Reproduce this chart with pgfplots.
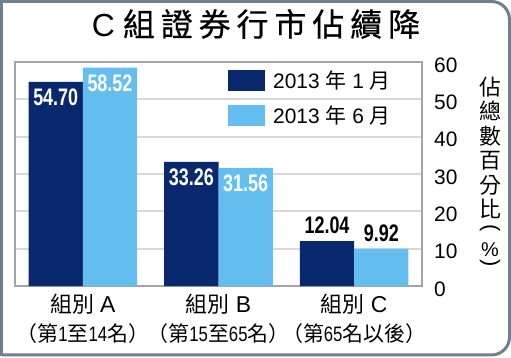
\documentclass[border=0pt]{standalone}
\usepackage{fontspec}
\setmainfont{Liberation Sans}
\newfontfamily\cjk{Noto Sans CJK TC}
\newfontfamily\cjkt[FakeBold=0.5]{Noto Sans CJK TC}
\newfontfamily\cond[FakeStretch=0.75]{Liberation Sans}
\newfontfamily\condl[FakeStretch=0.8]{Liberation Sans}
\usepackage{pgfplots}
\pgfplotsset{compat=1.18}
\definecolor{dkblue}{RGB}{10,40,110}
\definecolor{ltblue}{RGB}{100,190,240}
\definecolor{framecol}{RGB}{110,128,144}
\definecolor{axgray}{RGB}{165,165,165}
\definecolor{gridgray}{RGB}{215,215,220}
\pgfplotsset{mylegend/.style={legend image code/.code={\fill[##1, draw=none] (0bp,-10.5bp) rectangle (37bp,10.5bp);}},
  inlab/.style={draw=none, mark=none, forget plot,
    nodes near coords={\pgfmathprintnumber[fixed, fixed zerofill, precision=2]{\pgfplotspointmeta}},
    nodes near coords style={font=\cond\bfseries\fontsize{24}{24}\selectfont, text=white, inner sep=0pt, anchor=south, yshift=-24bp}},
  outlab/.style={draw=none, mark=none, forget plot,
    nodes near coords={\pgfmathprintnumber[fixed, fixed zerofill, precision=2]{\pgfplotspointmeta}},
    nodes near coords style={font=\cond\bfseries\fontsize{24}{24}\selectfont, text=black, inner sep=0pt, anchor=south, yshift=7bp}}}
\newcommand\lA[1]{{\cjk\fontsize{22}{22}\selectfont 組別}\hspace{6bp}{\fontsize{23}{23}\selectfont #1}}
\newcommand\n[1]{{\condl\fontsize{21}{21}\selectfont #1}}
\newcommand\cj[1]{{\cjk\fontsize{21}{21}\selectfont #1}}
\begin{document}
\begin{tikzpicture}
\useasboundingbox (0,0) rectangle (511bp,358bp);
\fill[white] (0,0) rectangle (511bp,358bp);
\begin{axis}[
  at={(15bp,72bp)}, anchor=south west,
  scale only axis, width=407bp, height=224bp,
  xmin=-0.5, xmax=2.5, ymin=0, ymax=60,
  axis line style={draw=axgray, line width=2bp},
  ymajorgrids, grid style={draw=gridgray, line width=2bp},
  major tick length=0pt,
  ytick={0,10,...,60}, yticklabel pos=right,
  yticklabel style={anchor=west, inner sep=0pt, xshift=12bp, yshift=-3bp, font=\fontsize{21}{21}\selectfont},
  /pgf/number format/assume math mode=true,
  xtick={0,1,2},
  xticklabels={
    {\lA{A}\\\cj{（第}\n{1}\cj{至}\n{14}\cj{名）}},
    {\lA{B}\\\cj{（第}\n{15}\cj{至}\n{65}\cj{名）}},
    {\lA{C}\\\cj{（第}\n{65}\cj{名以後）}}},
  xticklabel style={anchor=north, align=center, inner sep=0pt, yshift=-8bp, font=\fontsize{22}{29}\selectfont},
  legend style={at={(rel axis cs:0.5233,0.964)}, anchor=north west, draw=none, fill=none, inner sep=0pt, row sep=14bp, font=\fontsize{21}{21}\selectfont, nodes={inner sep=0pt}, /tikz/every odd column/.append style={column sep=8bp}},
  legend cell align=left,
  clip=false,
]
\addplot[ybar, bar width=0.4, bar shift=-0.2, fill=dkblue, draw=none, mylegend] coordinates {(0,54.70) (1,33.26) (2,12.04)};
\addlegendentry{2013 {\cjk 年} 1 {\cjk 月}}
\addplot[ybar, bar width=0.4, bar shift=0.2, fill=ltblue, draw=none, mylegend] coordinates {(0,58.52) (1,31.56) (2,9.92)};
\addlegendentry{2013 {\cjk 年} 6 {\cjk 月}}
% value labels (at bar centres: group position -/+ 0.2)
\addplot[inlab] coordinates {(-0.2,54.70) (0.8,33.26)};
\addplot[inlab] coordinates {(0.2,58.52) (1.2,31.56)};
\addplot[outlab] coordinates {(1.8,12.04) (2.2,9.92)};
\end{axis}
% y axis label
\node[anchor=north, inner sep=0pt, align=center, font=\cjk\fontsize{22}{24.5}\selectfont] at (490bp,281bp) {佔\\總\\數\\百\\分\\比};
\node[inner sep=0pt, font=\fontsize{22}{22}\selectfont] at (490bp,129.5bp) {\rotatebox{-90}{(}};
\node[inner sep=0pt, font=\fontsize{20}{20}\selectfont] at (490bp,108bp) {\%};
\node[inner sep=0pt, font=\fontsize{22}{22}\selectfont] at (490bp,94.5bp) {\rotatebox{-90}{)}};
% title
\node[anchor=center, inner sep=0pt, font=\fontsize{32}{32}\selectfont] at (256bp,334bp)
  {C\hspace{8bp}{\cjkt 組\hspace{6bp}證\hspace{6bp}券\hspace{6bp}行\hspace{6bp}市\hspace{6bp}佔\hspace{6bp}續\hspace{6bp}降}};
% frame
\draw[framecol, line width=3bp, rounded corners=18bp] (1.5bp,356.5bp) -- (509.5bp,356.5bp) -- (509.5bp,3bp) -- (1.5bp,3bp);
\draw[framecol, line width=3bp, line cap=rect] (1.5bp,3bp) -- (1.5bp,356.5bp);
\end{tikzpicture}
\end{document}
